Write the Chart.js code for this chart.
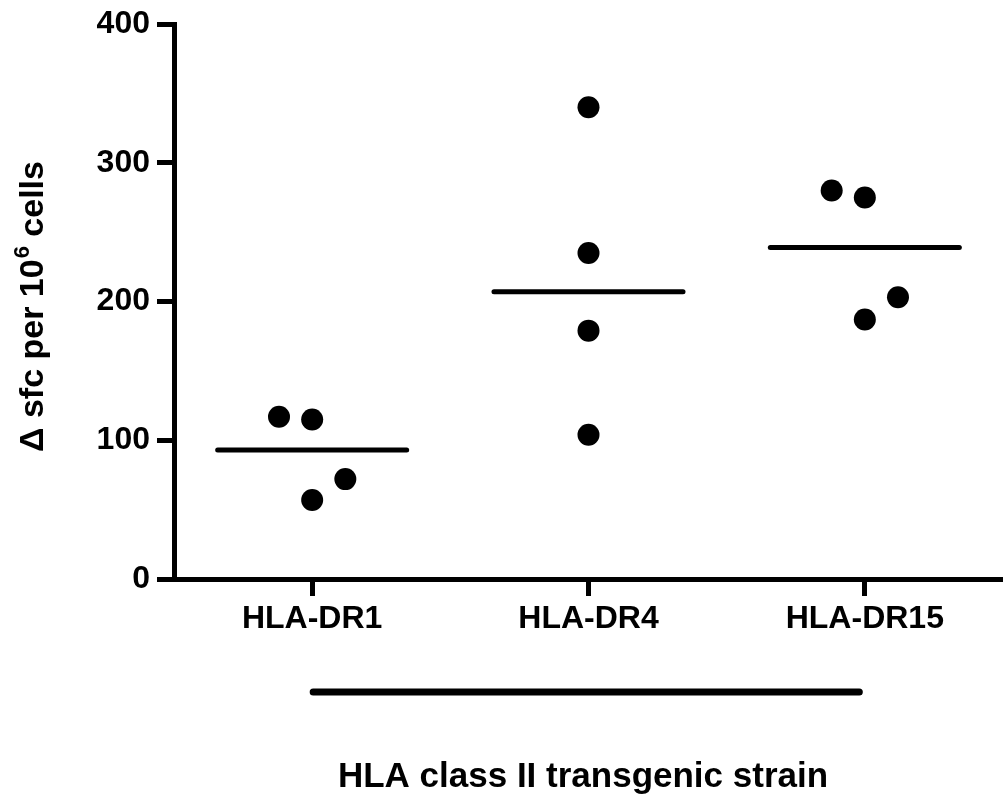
<!DOCTYPE html>
<html>
<head>
<meta charset="utf-8">
<script src="https://cdn.jsdelivr.net/npm/chart.js@4.4.1/dist/chart.umd.min.js"></script>
<style>
  html, body { margin: 0; padding: 0; background: #ffffff; }
  #wrap { width: 1003px; height: 797px; position: relative; }
</style>
</head>
<body>
<div id="wrap"><canvas id="c" width="1003" height="797"></canvas></div>
<script>
// ---- data ----
const categories = ["HLA-DR1", "HLA-DR4", "HLA-DR15"];
const dr1Values  = [117, 115, 72, 57];
const dr4Values  = [340, 235, 179, 104];
const dr15Values = [280, 275, 203, 187];
const dr1Jitter  = [-0.12, 0, 0.12, 0];
const dr4Jitter  = [0, 0, 0, 0];
const dr15Jitter = [-0.12, 0, 0.12, 0];
const meanValues = [93, 207, 239];
const yTicks = [0, 100, 200, 300, 400];
const yTitleMain = "\u0394 sfc per 10";
const yTitleSup = "6";
const yTitleEnd = " cells";
const xTitle = "HLA class II transgenic strain";

const FONT = '"Liberation Sans", Arial, Helvetica, sans-serif';
const groups = [dr1Values, dr4Values, dr15Values];
const jitters = [dr1Jitter, dr4Jitter, dr15Jitter];
const MEAN_HALF = 0.342;

const datasets = [];
groups.forEach((vals, gi) => {
  datasets.push({
    type: 'scatter',
    label: categories[gi],
    data: vals.map((v, i) => ({ x: gi + 1 + jitters[gi][i], y: v })),
    pointRadius: 11,
    pointHoverRadius: 11,
    backgroundColor: '#000',
    borderColor: '#000',
    borderWidth: 0
  });
});
meanValues.forEach((m, gi) => {
  datasets.push({
    type: 'line',
    label: categories[gi] + ' mean',
    data: [{ x: gi + 1 - MEAN_HALF, y: m }, { x: gi + 1 + MEAN_HALF, y: m }],
    borderColor: '#000',
    borderWidth: 5,
    borderCapStyle: 'round',
    pointRadius: 0,
    fill: false
  });
});

const decorPlugin = {
  id: 'decor',
  beforeDraw(chart) {
    const ctx = chart.ctx;
    ctx.save();
    ctx.fillStyle = '#ffffff';
    ctx.fillRect(0, 0, chart.width, chart.height);
    ctx.restore();
  },
  afterDraw(chart) {
    const ctx = chart.ctx;
    const xs = chart.scales.x;
    // bracket line under the strain labels
    ctx.save();
    ctx.strokeStyle = '#000';
    ctx.lineWidth = 7;
    ctx.lineCap = 'round';
    ctx.beginPath();
    ctx.moveTo(xs.getPixelForValue(1) + 1, 692);
    ctx.lineTo(xs.getPixelForValue(2.98), 692);
    ctx.stroke();
    ctx.restore();

    // x title
    ctx.save();
    ctx.fillStyle = '#000';
    ctx.font = 'bold 35px ' + FONT;
    ctx.textAlign = 'center';
    ctx.textBaseline = 'alphabetic';
    ctx.fillText(xTitle, 583, 787);
    ctx.restore();

    // y title (rotated) with superscript
    ctx.save();
    ctx.fillStyle = '#000';
    const mainFont = 'bold 34px ' + FONT;
    const supFont = 'bold 22px ' + FONT;
    ctx.font = mainFont;
    const w1 = ctx.measureText(yTitleMain).width;
    const w3 = ctx.measureText(yTitleEnd).width;
    ctx.font = supFont;
    const w2 = ctx.measureText(yTitleSup).width;
    const total = w1 + w2 + w3;
    ctx.translate(43, 307);
    ctx.rotate(-Math.PI / 2);
    ctx.textBaseline = 'alphabetic';
    ctx.textAlign = 'left';
    let x0 = -total / 2;
    ctx.font = mainFont;
    ctx.fillText(yTitleMain, x0, 0);
    ctx.font = supFont;
    ctx.fillText(yTitleSup, x0 + w1 + 1, -14);
    ctx.font = mainFont;
    ctx.fillText(yTitleEnd, x0 + w1 + w2 + 1, 0);
    ctx.restore();
  }
};

new Chart(document.getElementById('c'), {
  data: { datasets },
  options: {
    responsive: false,
    animation: false,
    events: [],
    layout: { autoPadding: false, padding: { top: 24, right: 0, bottom: 0, left: 0 } },
    plugins: { legend: { display: false }, tooltip: { enabled: false }, title: { display: false } },
    scales: {
      x: {
        type: 'linear',
        min: 0.5,
        max: 3.5,
        afterBuildTicks(scale) { scale.ticks = categories.map((c, i) => ({ value: i + 1 })); },
        afterFit(scale) { scale.height = 797 - 579; scale.paddingLeft = 0; scale.paddingRight = 0; },
        ticks: {
          callback: (v) => categories[Math.round(v) - 1] || '',
          color: '#000',
          font: { family: FONT, size: 32, weight: 'bold' },
          padding: 4,
          maxRotation: 0,
          autoSkip: false
        },
        grid: { drawOnChartArea: false, drawTicks: true, tickLength: 17, tickWidth: 5, tickColor: '#000', color: '#000' },
        border: { display: true, color: '#000', width: 5 }
      },
      y: {
        type: 'linear',
        min: 0,
        max: 400,
        afterBuildTicks(scale) { scale.ticks = yTicks.map(v => ({ value: v })); },
        afterFit(scale) { scale.width = 174; scale.paddingTop = 0; scale.paddingBottom = 0; },
        ticks: {
          color: '#000',
          font: { family: FONT, size: 32, weight: 'bold' },
          padding: 7
        },
        grid: { drawOnChartArea: false, drawTicks: true, tickLength: 17, tickWidth: 5, tickColor: '#000', color: '#000' },
        border: { display: true, color: '#000', width: 5 }
      }
    }
  },
  plugins: [decorPlugin]
});
</script>
</body>
</html>
